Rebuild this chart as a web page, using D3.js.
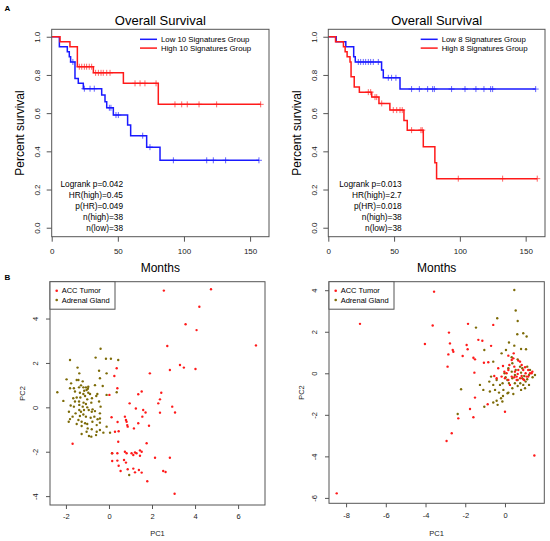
<!DOCTYPE html>
<html>
<head>
<meta charset="utf-8">
<script src="https://cdn.jsdelivr.net/npm/d3@7"></script>
<style>
  body { margin: 0; background: #fff; }
  text { font-family: "Liberation Sans", Arial, sans-serif; }
</style>
</head>
<body>
<div id="fig"></div>
<script>
// ---- survival data (months, survival fraction) ----
var lowTimes10  = [5.8, 11.8, 13.3, 14.3, 17.6, 20.1, 23.9, 37.8, 40.3, 41.6, 46.6, 57.4, 59.7, 71.8, 81.9];
var lowSurv10   = [0.947, 0.921, 0.895, 0.868, 0.782, 0.756, 0.728, 0.695, 0.66, 0.628, 0.59, 0.538, 0.482, 0.422, 0.353];
var lowCensor10 = [16.0, 24.7, 29.0, 32.2, 43.6, 44.8, 48.6, 50.4, 68.8, 74.3, 92.0, 117.2, 122.2, 131.5, 156.7];

var highTimes10  = [6.3, 13.8, 19.4, 31.5, 54.2, 80.6];
var highSurv10   = [0.974, 0.948, 0.843, 0.811, 0.756, 0.646];
var highCensor10 = [20.9, 22.7, 24.7, 26.4, 28.4, 30.2, 33.2, 35.3, 37.3, 39.0, 41.6, 44.1, 63.0, 66.8, 70.5, 78.9, 93.2, 98.3, 102.5, 111.4, 124.7, 158.0];

var lowTimes8  = [6.0, 13.3, 19.3, 20.5, 40.5, 41.8, 54.5];
var lowSurv8   = [0.974, 0.948, 0.895, 0.868, 0.826, 0.785, 0.726];
var lowCensor8 = [22.8, 24.6, 26.6, 28.4, 30.4, 32.2, 34.2, 38.0, 45.6, 48.1, 51.4, 63.3, 69.2, 75.5, 79.3, 80.6, 93.7, 103.9, 112.2, 118.3, 123.4, 124.9, 157.6];

var highTimes8  = [5.5, 11.5, 12.8, 14.3, 16.5, 17.3, 19.7, 23.6, 33.0, 38.5, 46.8, 57.5, 60.0, 72.2, 81.0, 82.3];
var highSurv8   = [0.974, 0.947, 0.921, 0.895, 0.868, 0.790, 0.737, 0.710, 0.684, 0.651, 0.616, 0.562, 0.511, 0.424, 0.340, 0.257];
var highCensor8 = [30.4, 32.2, 35.5, 36.8, 40.6, 49.4, 52.0, 54.5, 56.2, 63.3, 70.4, 71.4, 98.8, 132.5, 158.8];

var stats10 = ["Logrank p=0.042", "HR(high)=0.45", "p(HR)=0.049", "n(high)=38", "n(low)=38"];
var stats8  = ["Logrank p=0.013", "HR(high)=2.7", "p(HR)=0.018", "n(high)=38", "n(low)=38"];
var monthTicks = [0, 50, 100, 150];
var survTicks = [0, 0.2, 0.4, 0.6, 0.8, 1.0];

// ---- PCA data [PC1, PC2] ----
var tumorPca1 = [[2.55,5.26],[4.74,5.32],[4.20,4.53],[3.56,3.74],[4.07,3.48],[2.71,2.76],[6.83,2.79],[3.30,1.91],[3.48,1.79],[2.83,1.68],
  [4.02,1.73],[0.36,1.76],[0.25,1.41],[1.90,1.53],[0.39,0.86],[0.02,0.56],[1.36,0.59],[1.52,0.71],[2.43,0.66],[2.37,0.36],
  [2.29,0.18],[0.96,0.18],[1.25,-0.05],[1.59,-0.12],[1.55,-0.42],[1.70,-0.23],[2.37,-0.24],[2.94,0.03],[3.07,-0.23],[0.12,-0.45],
  [0.74,-0.42],[0.40,-0.66],[0.79,-0.57],[0.82,-0.65],[0.85,-0.80],[0.87,-0.87],[1.36,-0.72],[1.16,-0.95],[1.86,-0.83],[0.28,-1.10],
  [0.45,-1.08],[0.43,-1.55],[0.15,-2.07],[0.39,-2.07],[0.74,-2.00],[0.82,-2.07],[1.05,-2.07],[1.21,-2.03],[1.28,-2.07],[1.44,-1.94],
  [1.44,-2.18],[1.52,-2.00],[1.75,-1.62],[2.14,-2.27],[2.83,-2.27],[0.15,-2.42],[0.39,-2.40],[0.70,-2.37],[0.79,-2.49],[0.45,-2.63],
  [0.54,-2.87],[1.13,-2.76],[1.21,-2.93],[1.39,-2.82],[1.52,-2.94],[2.52,-2.87],[2.63,-2.91],[1.78,-3.33],[3.05,-3.89],[-1.69,-1.64],
  [1.13,-2.15],[0.87,-2.79]];
var glandPca1 = [[-0.39,2.64],[-1.81,2.13],[-0.62,2.24],[-0.14,2.19],[0.09,2.19],[0.43,2.13],[-1.46,1.79],[-0.46,1.65],[-1.38,1.53],[-0.11,1.53],
  [-1.97,1.26],[-1.76,1.08],[-1.42,1.23],[-1.22,1.17],[-0.96,0.93],[-0.42,1.31],[-0.29,0.96],[-1.81,0.86],[-1.63,0.86],[-1.39,0.90],
  [-1.30,0.99],[-1.19,0.90],[-1.07,0.90],[-0.98,0.84],[-1.58,0.71],[-1.35,0.66],[-1.15,0.75],[-0.96,0.66],[-0.88,0.60],[-0.54,0.60],
  [-0.11,0.56],[0.36,0.68],[-2.40,0.68],[-2.12,0.29],[-1.50,0.44],[-1.33,0.44],[-1.11,0.51],[-1.01,0.36],[-0.79,0.41],[-0.59,0.51],
  [-1.58,0.26],[-1.39,0.26],[-1.18,0.21],[-1.07,0.15],[-0.82,0.21],[-0.46,0.26],[-1.78,0.08],[-1.63,0.03],[-1.38,0.11],[-1.22,0.03],
  [-1.01,0.00],[-0.76,-0.09],[-0.39,0.03],[-1.38,-0.12],[-1.16,-0.12],[-0.94,-0.12],[-0.80,-0.20],[-0.65,-0.17],[-0.42,-0.27],[-1.86,-0.20],
  [-1.55,-0.27],[-1.35,-0.39],[-1.19,-0.32],[-1.07,-0.42],[-0.85,-0.47],[-0.68,-0.42],[-0.53,-0.54],[-1.81,-0.53],[-1.42,-0.57],[-1.27,-0.65],
  [-1.11,-0.72],[-1.01,-0.75],[-0.77,-0.65],[-0.57,-0.80],[-0.42,-0.69],[-0.11,-0.87],[-1.50,-0.75],[-1.27,-0.84],[-0.99,-0.95],[-0.80,-0.99],
  [-0.57,-1.10],[-0.26,-1.14],[0.05,-1.14],[-1.27,-1.20],[-1.04,-1.10],[-0.93,-1.29],[-0.82,-1.32],[-0.60,-1.25],[-1.87,-0.65],[-1.69,-0.42],
  [-1.30,-0.20],[-0.42,-0.50],[-0.42,-1.02],[0.14,-2.07],[0.94,-3.05],[-1.50,1.23],[-1.04,0.78],[-0.65,1.00],[-1.66,0.41],[-1.19,0.60]];

var tumorPca2 = [[-8.47,-5.78],[-7.30,2.38],[-3.57,3.93],[-3.64,2.30],[-4.03,1.41],[-2.82,1.96],[-2.77,1.44],[-2.85,0.91],[-2.89,0.32],[-2.63,1.12],
  [-2.60,1.04],[-2.13,0.83],[-1.93,1.36],[-1.88,1.16],[-1.86,2.38],[-1.34,1.61],[-1.14,1.57],[-1.59,0.75],[-1.51,0.67],[-1.06,0.51],
  [-0.84,0.53],[-0.70,1.32],[-0.59,2.33],[0.00,-1.85],[-1.54,0.03],[-1.51,-1.17],[-1.76,-1.72],[-1.59,-2.12],[-2.35,-2.17],[-2.68,-2.89],
  [-2.94,-3.26],[-0.87,-1.49],[1.48,-3.96],[-0.34,0.24],[-0.10,0.35],[-0.03,0.08],[0.08,0.00],[0.17,0.16],[0.22,0.40],[0.34,0.64],
  [0.42,0.72],[0.47,0.32],[0.50,0.08],[0.59,-0.16],[0.67,0.16],[0.76,0.56],[0.84,0.40],[0.92,0.16],[1.01,0.29],[1.04,0.00],
  [1.09,-0.16],[1.17,0.16],[1.26,0.00],[1.34,0.00],[1.38,0.08],[0.97,-0.32],[0.84,-0.13],[0.76,-0.24],[0.64,-0.03],[0.47,-0.19],
  [0.34,-0.16],[0.17,-0.32],[0.00,-0.24],[-0.17,-0.16],[-0.42,-0.24],[-0.54,-0.13],[0.25,-0.56],[0.59,-0.32],[0.92,-0.29],[1.17,-0.16],
  [0.67,0.61],[0.44,0.96],[0.17,0.85]];
var glandPca2 = [[0.47,4.01],[0.54,3.02],[0.64,2.52],[-0.39,2.65],[-1.46,2.20],[0.62,1.88],[0.92,1.93],[0.20,1.48],[1.09,1.77],[0.47,1.33],
  [0.81,1.17],[1.06,1.16],[-1.04,1.12],[-0.59,0.56],[0.05,1.12],[-0.17,0.96],[0.34,0.77],[0.64,0.67],[0.37,0.48],[0.76,0.32],
  [0.87,0.24],[1.12,0.32],[0.17,0.24],[-0.02,0.00],[0.34,0.08],[0.50,-0.08],[0.64,-0.32],[0.77,-0.48],[0.92,-0.56],[1.04,-0.40],
  [0.87,-0.24],[1.21,-0.08],[1.39,-0.19],[1.51,-0.08],[1.26,0.16],[1.12,-0.29],[0.97,-0.13],[0.81,0.03],[0.54,0.16],[0.12,-0.32],
  [-0.12,-0.48],[-0.25,-0.56],[-0.42,-0.32],[-0.70,-0.16],[-0.79,-0.40],[-0.59,-0.56],[-0.08,-0.80],[0.13,-0.96],[0.37,-0.72],[0.64,-0.61],
  [0.81,-0.80],[0.42,-1.00],[-0.30,-0.93],[-0.10,-1.09],[-0.20,-1.20],[-0.42,-1.32],[-0.13,-1.36],[-1.26,-0.56],[-1.09,-0.80],[-2.21,-0.77],
  [-2.38,-1.96],[-1.04,-1.61],[-0.59,-1.41],[-0.37,-1.52],[0.17,-0.93],[0.37,-0.24],[0.03,-0.19],[0.20,-0.48],[0.50,-0.48],[1.21,-0.56],
  [1.01,-0.72],[-0.50,-0.80],[-0.76,-0.88]];

var pcaLegend = ["ACC Tumor", "Adrenal Gland"];
var blue = "#1a1aff", red = "#ff1a1a", olive = "#7d6b08", boxCol = "#555";

var svg = d3.select("#fig").append("svg").attr("width", 550).attr("height", 541);

function survAt(times, surv, t) {
  var s = 1;
  for (var i = 0; i < times.length; i++) { if (times[i] <= t) s = surv[i]; }
  return s;
}

function styleAxis(a, fs) {
  a.attr("font-size", fs).attr("font-family", null);
  a.select(".domain").remove();
  a.selectAll("line").attr("stroke", boxCol);
  a.selectAll("text").attr("fill", "#222");
}

function rotateY(a, off) {
  a.selectAll("text").attr("x", 0).attr("dy", 0).attr("text-anchor", "middle")
    .attr("transform", "translate(" + off + ",0) rotate(-90)");
}

function drawKM(cfg) {
  var x = d3.scaleLinear().domain([0, cfg.xmax]).range([cfg.left, cfg.right]);
  var y = d3.scaleLinear().domain([-0.047, 1.039]).range([236.7, 29.3]);
  var g = svg.append("g");

  var xa = g.append("g").attr("transform", "translate(0," + y(-0.047) + ")")
    .call(d3.axisBottom(x).tickValues(monthTicks).tickSize(5).tickPadding(7));
  styleAxis(xa, 8);
  var ya = g.append("g").attr("transform", "translate(" + cfg.left + ",0)")
    .call(d3.axisLeft(y).tickValues(survTicks).tickSize(5).tickFormat(d3.format(".1f")));
  styleAxis(ya, 8);
  rotateY(ya, -11.8);

  cfg.groups.forEach(function(gr) {
    var pts = [[0, 1]].concat(gr.times.map(function(t, i) { return [t, gr.surv[i]]; }));
    pts.push([d3.max(gr.censor), gr.surv[gr.surv.length - 1]]);
    g.append("path")
      .attr("d", d3.line().x(function(d) { return x(d[0]); }).y(function(d) { return y(d[1]); })
        .curve(d3.curveStepAfter)(pts))
      .attr("fill", "none").attr("stroke", gr.color).attr("stroke-width", 1.5);
    var cm = g.append("g").attr("stroke", gr.color).attr("stroke-width", 0.9).attr("opacity", 0.75);
    gr.censor.forEach(function(c) {
      var cx = x(c), cy = y(survAt(gr.times, gr.surv, c));
      cm.append("line").attr("x1", cx).attr("x2", cx).attr("y1", cy - 3).attr("y2", cy + 3);
      cm.append("line").attr("x1", cx - 3).attr("x2", cx + 3).attr("y1", cy).attr("y2", cy);
    });
  });

  g.append("rect").attr("x", cfg.left).attr("y", y(1.039))
    .attr("width", cfg.right - cfg.left).attr("height", y(-0.047) - y(1.039))
    .attr("fill", "none").attr("stroke", boxCol);

  var cx = (cfg.left + cfg.right) / 2;
  g.append("text").attr("x", cx).attr("y", 25.3).attr("text-anchor", "middle")
    .attr("font-size", 13).text("Overall Survival");
  g.append("text").attr("x", cx).attr("y", 271.5).attr("text-anchor", "middle")
    .attr("font-size", 12).text("Months");
  g.append("text").attr("transform", "translate(" + (cfg.left - 27.5) + ",133) rotate(-90)")
    .attr("text-anchor", "middle").attr("font-size", 12).text("Percent survival");

  cfg.groups.forEach(function(gr, i) {
    var ly = 39.3 + i * 8.8;
    g.append("line").attr("x1", cfg.legX).attr("x2", cfg.legX + 17).attr("y1", ly).attr("y2", ly)
      .attr("stroke", gr.color).attr("stroke-width", 1.5);
    g.append("text").attr("x", cfg.legX + 21).attr("y", ly + 2.8).attr("font-size", 7.8).text(gr.label);
  });

  cfg.stats.forEach(function(s, i) {
    g.append("text").attr("x", cfg.statX).attr("y", 184 + i * 11.07 + 3)
      .attr("text-anchor", "end").attr("font-size", 8.3).text(s);
  });
}

drawKM({
  left: 51.7, right: 269, xmax: 164.3, legX: 140, statX: 123, stats: stats10,
  groups: [
    {label: "Low 10 Signatures Group", color: blue, times: lowTimes10, surv: lowSurv10, censor: lowCensor10},
    {label: "High 10 Signatures Group", color: red, times: highTimes10, surv: highSurv10, censor: highCensor10}
  ]
});
drawKM({
  left: 328.3, right: 545, xmax: 164.7, legX: 420.7, statX: 401.7, stats: stats8,
  groups: [
    {label: "Low 8 Signatures Group", color: blue, times: lowTimes8, surv: lowSurv8, censor: lowCensor8},
    {label: "High 8 Signatures Group", color: red, times: highTimes8, surv: highSurv8, censor: highCensor8}
  ]
});

function drawPCA(cfg) {
  var x = d3.scaleLinear().domain(cfg.xdom).range([cfg.left, cfg.right]);
  var y = d3.scaleLinear().domain(cfg.ydom).range([cfg.bottom, cfg.top]);
  var g = svg.append("g");
  var fmt = function(d) { return String(d); };

  var xa = g.append("g").attr("transform", "translate(0," + cfg.bottom + ")")
    .call(d3.axisBottom(x).tickValues(cfg.xticks).tickSize(4).tickPadding(5).tickFormat(fmt));
  styleAxis(xa, 7.5);
  var ya = g.append("g").attr("transform", "translate(" + cfg.left + ",0)")
    .call(d3.axisLeft(y).tickValues(cfg.yticks).tickSize(4).tickFormat(fmt));
  styleAxis(ya, 7.5);
  rotateY(ya, -12.2);

  g.append("g").selectAll("circle").data(cfg.gland).enter().append("circle")
    .attr("cx", function(d) { return x(d[0]); }).attr("cy", function(d) { return y(d[1]); })
    .attr("r", 1.2).attr("fill", olive);
  g.append("g").selectAll("circle").data(cfg.tumor).enter().append("circle")
    .attr("cx", function(d) { return x(d[0]); }).attr("cy", function(d) { return y(d[1]); })
    .attr("r", 1.2).attr("fill", red);

  g.append("rect").attr("x", cfg.left).attr("y", cfg.top)
    .attr("width", cfg.right - cfg.left).attr("height", cfg.bottom - cfg.top)
    .attr("fill", "none").attr("stroke", boxCol);

  // legend
  g.append("rect").attr("x", cfg.left).attr("y", cfg.top).attr("width", 65).attr("height", 27.5)
    .attr("fill", "#fff").attr("stroke", boxCol);
  [red, olive].forEach(function(c, i) {
    var ly = cfg.top + 9 + i * 9.3;
    g.append("circle").attr("cx", cfg.left + 6.7).attr("cy", ly).attr("r", 1.3).attr("fill", c);
    g.append("text").attr("x", cfg.left + 11.7).attr("y", ly + 2.7).attr("font-size", 7.5).text(pcaLegend[i]);
  });

  g.append("text").attr("x", (cfg.left + cfg.right) / 2).attr("y", 536)
    .attr("text-anchor", "middle").attr("font-size", 7.5).attr("fill", "#222").text("PC1");
  g.append("text").attr("transform", "translate(" + (cfg.left - 25.5) + "," + ((cfg.top + cfg.bottom) / 2) + ") rotate(-90)")
    .attr("text-anchor", "middle").attr("font-size", 7.5).attr("fill", "#222").text("PC2");
}

drawPCA({
  left: 50, right: 265, top: 281.7, bottom: 505, xdom: [-2.74, 7.25], ydom: [-4.40, 5.66],
  xticks: [-2, 0, 2, 4, 6], yticks: [-4, -2, 0, 2, 4], tumor: tumorPca1, gland: glandPca1
});
drawPCA({
  left: 329, right: 544.3, top: 281.7, bottom: 503.3, xdom: [-8.86, 1.98], ydom: [-6.26, 4.41],
  xticks: [-8, -6, -4, -2, 0], yticks: [-6, -4, -2, 0, 2, 4], tumor: tumorPca2, gland: glandPca2
});

svg.append("text").attr("x", 4.5).attr("y", 11).attr("font-size", 8).attr("font-weight", "bold").text("A");
svg.append("text").attr("x", 4.5).attr("y", 279.5).attr("font-size", 8).attr("font-weight", "bold").text("B");
</script>
</body>
</html>
